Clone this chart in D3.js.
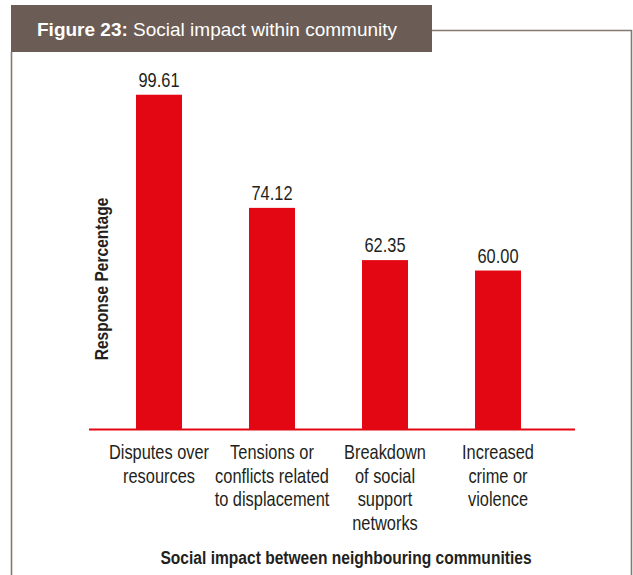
<!DOCTYPE html>
<html>
<head>
<meta charset="utf-8">
<script src="https://cdn.jsdelivr.net/npm/d3@7"></script>
<style>
  html, body { margin: 0; padding: 0; background: #ffffff; }
  svg { display: block; }
  text { font-family: "Liberation Sans", Arial, sans-serif; fill: #231f20; }
</style>
</head>
<body>
<svg id="chart" width="633" height="575"></svg>
<script>
// Chart data
const titleBold = "Figure 23:";
const titleRest = " Social impact within community";
const categories = [
  "Disputes over\nresources",
  "Tensions or\nconflicts related\nto displacement",
  "Breakdown\nof social\nsupport\nnetworks",
  "Increased\ncrime or\nviolence"
];
const values = [99.61, 74.12, 62.35, 60.00];
const yAxisTitle = "Response Percentage";
const xAxisTitle = "Social impact between neighbouring communities";

const svg = d3.select("#chart");
const red = "#e30613";
const frame = "#86786f";
const narrow = 0.82; // horizontal squeeze for a condensed face

// Text placed at (tx, ty), squeezed horizontally
function narrowText(parent, tx, ty, rotate) {
  return parent.append("text")
    .attr("transform", `translate(${tx},${ty})${rotate ? ` rotate(${rotate})` : ""} scale(${narrow},1)`)
    .attr("text-anchor", "middle");
}

// Frame around the figure
svg.append("path")
  .attr("d", "M432,30.5 H631.5 V580 M11.5,52 V580")
  .attr("fill", "none")
  .attr("stroke", frame)
  .attr("stroke-width", 1.6);

// Title banner
svg.append("rect")
  .attr("x", 11).attr("y", 5)
  .attr("width", 421).attr("height", 47)
  .attr("fill", "#6b5d55");

const title = svg.append("text")
  .attr("x", 37).attr("y", 36)
  .style("font-size", "19px");
title.append("tspan").text(titleBold).style("font-weight", "bold").style("fill", "#ffffff");
title.append("tspan").text(titleRest).style("fill", "#ffffff");

// Scales
const baseY = 429;
const x = d3.scaleBand()
  .domain(categories)
  .range([89, 568])
  .paddingInner(0.593)
  .paddingOuter(0.416);

const y = d3.scaleLinear()
  .domain([24.3, 100])
  .range([baseY, 93]);

const cx = c => x(c) + x.bandwidth() / 2;

// Bars
svg.append("g").selectAll("rect")
  .data(values)
  .join("rect")
  .attr("x", (d, i) => x(categories[i]))
  .attr("y", d => y(d))
  .attr("width", x.bandwidth())
  .attr("height", d => baseY - y(d))
  .attr("fill", red);

// Value labels
const valG = svg.append("g");
values.forEach((v, i) => {
  narrowText(valG, cx(categories[i]), y(v) - 8)
    .style("font-size", "20px")
    .text(v.toFixed(2));
});

// Baseline
svg.append("line")
  .attr("x1", 89).attr("x2", 575)
  .attr("y1", baseY + 0.5).attr("y2", baseY + 0.5)
  .attr("stroke", red)
  .attr("stroke-width", 2.2);

// Category labels
const catG = svg.append("g");
categories.forEach(c => {
  const t = narrowText(catG, cx(c), 459).style("font-size", "20px");
  c.split("\n").forEach((line, j) => {
    t.append("tspan")
      .attr("x", 0)
      .attr("y", j * 23.6)
      .text(line);
  });
});

// Axis titles
narrowText(svg, 346, 564)
  .style("font-size", "19px")
  .style("font-weight", "bold")
  .text(xAxisTitle);

narrowText(svg, 108, 279, -90)
  .style("font-size", "19px")
  .style("font-weight", "bold")
  .text(yAxisTitle);
</script>
</body>
</html>
